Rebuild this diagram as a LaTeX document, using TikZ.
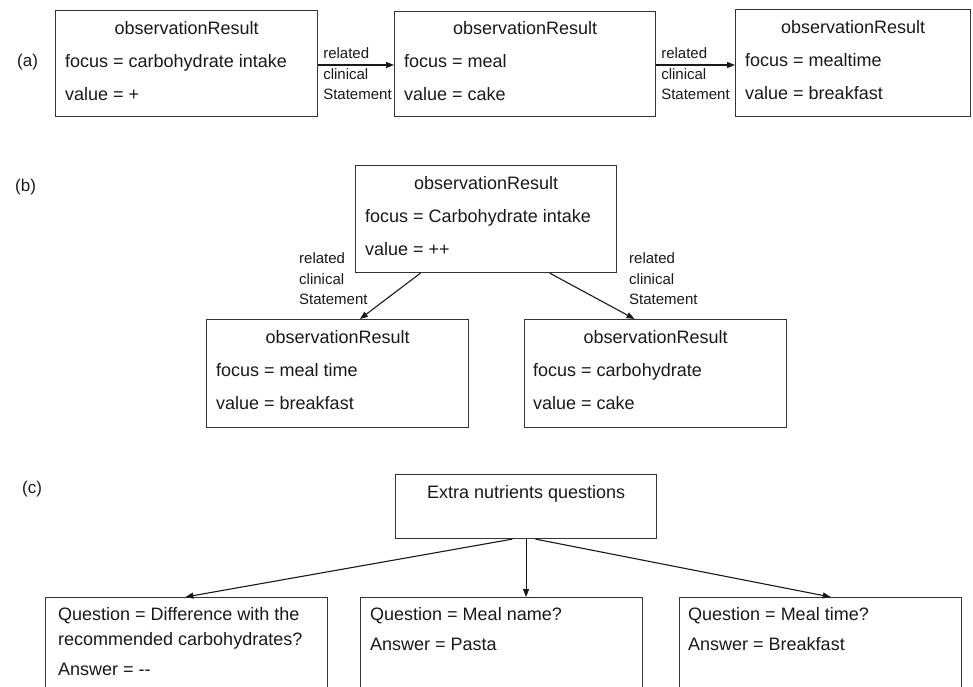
\documentclass[tikz,border=0pt]{standalone}
\usepackage{fontspec}
\setmainfont{Liberation Sans}
\usetikzlibrary{arrows.meta,calc}
\begin{document}
\begin{tikzpicture}[x=1pt,y=-1pt,
  box/.style={draw=black!80, line width=1.1pt, rectangle, inner sep=0pt, anchor=north west},
  txt/.style={inner sep=0pt, font=\fontsize{18}{22}\selectfont, text=black!90},
  lbl/.style={inner sep=0pt, font=\fontsize{15}{20.5}\selectfont, align=left, anchor=west, text=black!90},
  tag/.style={inner sep=0pt, font=\fontsize{17}{20}\selectfont, anchor=base west, text=black!90},
  arr/.style={draw=black!90, line width=1.1pt, -{Triangle[length=8pt,width=6pt]}}
]
\useasboundingbox (0,0) rectangle (973,686);
\clip (0,0) rectangle (973,686);

% ---------- (a) ----------
\node[tag] (ta) at (17,66) {(a)};
\node[box, minimum width=262pt, minimum height=106pt] (a1) at (55,10) {};
\node[box, minimum width=261pt, minimum height=105pt] (a2) at (394,11) {};
\node[box, minimum width=235pt, minimum height=107pt] (a3) at (735,9) {};

\node[txt, anchor=base] (a1t) at ($(a1.north)+(0,24)$) {observationResult};
\node[txt, anchor=base west] (a1f) at ($(a1.north west)+(10,57)$) {focus = carbohydrate intake};
\node[txt, anchor=base west] (a1v) at ($(a1.north west)+(10,90)$) {value = +};

\node[txt, anchor=base] (a2t) at ($(a2.north)+(0,23)$) {observationResult};
\node[txt, anchor=base west] (a2f) at ($(a2.north west)+(10,56)$) {focus = meal};
\node[txt, anchor=base west] (a2v) at ($(a2.north west)+(10,89)$) {value = cake};

\node[txt, anchor=base] (a3t) at ($(a3.north)+(0,24)$) {observationResult};
\node[txt, anchor=base west] (a3f) at ($(a3.north west)+(10,57)$) {focus = mealtime};
\node[txt, anchor=base west] (a3v) at ($(a3.north west)+(10,90)$) {value = breakfast};

\draw[arr] ($(a1.north east)+(0,55)$) -- ($(a2.north west)+(0,54)$);
\draw[arr] ($(a2.north east)+(0,54)$) -- ($(a3.north west)+(0,56)$);
\node[lbl] (la1) at ($(a1.north east)+(5,64)$) {related\\clinical\\Statement};
\node[lbl] (la2) at ($(a2.north east)+(5,63)$) {related\\clinical\\Statement};

% ---------- (b) ----------
\node[tag] (tb) at (15,191) {(b)};
\node[box, minimum width=261pt, minimum height=107pt] (b0) at (355,165) {};
\node[box, minimum width=262pt, minimum height=108pt] (b1) at (206,319) {};
\node[box, minimum width=262pt, minimum height=108pt] (b2) at (524,319) {};

\node[txt, anchor=base] (b0t) at ($(b0.north)+(0,24)$) {observationResult};
\node[txt, anchor=base west] (b0f) at ($(b0.north west)+(10,57)$) {focus = Carbohydrate intake};
\node[txt, anchor=base west] (b0v) at ($(b0.north west)+(10,90)$) {value = ++};

\node[txt, anchor=base] (b1t) at ($(b1.north)+(0,24)$) {observationResult};
\node[txt, anchor=base west] (b1f) at ($(b1.north west)+(10,57)$) {focus = meal time};
\node[txt, anchor=base west] (b1v) at ($(b1.north west)+(10,90)$) {value = breakfast};

\node[txt, anchor=base] (b2t) at ($(b2.north)+(0,24)$) {observationResult};
\node[txt, anchor=base west] (b2f) at ($(b2.north west)+(9,57)$) {focus = carbohydrate};
\node[txt, anchor=base west] (b2v) at ($(b2.north west)+(9,90)$) {value = cake};

\draw[arr] ($(b0.south west)!0.25!(b0.south east)$) -- ($(b1.north west)!0.585!(b1.north east)$);
\draw[arr] ($(b0.south west)!0.743!(b0.south east)$) -- ($(b2.north west)!0.42!(b2.north east)$);
\node[lbl] (lb1) at (299,279) {related\\clinical\\Statement};
\node[lbl] (lb2) at (629,279) {related\\clinical\\Statement};

% ---------- (c) ----------
\node[tag] (tc) at (22,493) {(c)};
\node[box, minimum width=261pt, minimum height=64pt] (c0) at (395,474) {};
\node[box, minimum width=282pt, minimum height=110pt] (c1) at (45,597) {};
\node[box, minimum width=282pt, minimum height=110pt] (c2) at (360,597) {};
\node[box, minimum width=282pt, minimum height=110pt] (c3) at (679,597) {};

\node[txt, anchor=base] (c0t) at ($(c0.north)+(0,24)$) {Extra nutrients questions};

\node[txt, anchor=base west] (c1q) at ($(c1.north west)+(13,23)$) {Question = Difference with the};
\node[txt, anchor=base west] (c1r) at ($(c1.north west)+(13,48)$) {recommended carbohydrates?};
\node[txt, anchor=base west] (c1a) at ($(c1.north west)+(13,78)$) {Answer = -{}-};

\node[txt, anchor=base west] (c2q) at ($(c2.north west)+(10,23)$) {Question = Meal name?};
\node[txt, anchor=base west] (c2a) at ($(c2.north west)+(10,53)$) {Answer = Pasta};

\node[txt, anchor=base west] (c3q) at ($(c3.north west)+(9,23)$) {Question = Meal time?};
\node[txt, anchor=base west] (c3a) at ($(c3.north west)+(9,53)$) {Answer = Breakfast};

\draw[arr] ($(c0.south west)!0.448!(c0.south east)$) -- ($(c1.north west)!0.496!(c1.north east)$);
\draw[arr] (c0.south) -- (c0.south |- c2.north);
\draw[arr] ($(c0.south west)!0.536!(c0.south east)$) -- ($(c3.north west)!0.536!(c3.north east)$);
\end{tikzpicture}
\end{document}
